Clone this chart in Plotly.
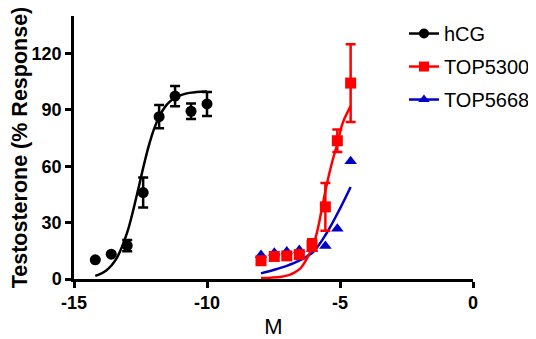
import plotly.graph_objects as go

# ---- data ----
hcg_x = [-14.2, -13.6, -13.0, -12.4, -11.8, -11.2, -10.6, -10.0]
hcg_y = [10.2, 13.2, 17.8, 46.0, 86.4, 97.4, 89.3, 93.2]
hcg_err = [0, 0, 3.0, 8.0, 6.2, 5.4, 4.1, 6.4]

top5300_x = [-7.97, -7.47, -7.0, -6.53, -6.05, -5.55, -5.1, -4.6]
top5300_y = [9.7, 12.0, 12.3, 13.0, 18.1, 38.4, 73.6, 104.3]
top5300_err = [0, 0, 0, 0, 3.0, 12.7, 6.0, 20.7]

top5668_x = [-7.97, -7.47, -7.0, -6.53, -6.05, -5.55, -5.1, -4.6]
top5668_y = [12.8, 14.0, 14.6, 15.5, 16.0, 17.6, 26.7, 62.7]

# fitted curves
hcg_fit_x = [-14.2, -13.8, -13.4, -13.0, -12.8, -12.6, -12.4, -12.2, -12.0, -11.8,
             -11.6, -11.4, -11.2, -10.8, -10.4, -10.0]
hcg_fit_y = [1.7, 4.4, 11.0, 24.8, 35.1, 46.9, 59.1, 70.3, 79.5, 86.4,
             91.2, 94.4, 96.5, 98.7, 99.5, 99.8]

top5300_fit_x = [-7.97, -7.6, -7.2, -6.9, -6.7, -6.5, -6.3, -6.1, -5.9, -5.7,
                 -5.5, -5.3, -5.1, -4.9, -4.6]
top5300_fit_y = [0.5, 0.7, 1.2, 2.2, 3.5, 5.5, 9.5, 15.0, 23.0, 36.0,
                 50.0, 62.0, 72.0, 83.0, 92.0]

top5668_fit_x = [-7.97, -7.5, -7.0, -6.5, -6.0, -5.5, -5.0, -4.6]
top5668_fit_y = [3.0, 4.8, 7.0, 10.0, 14.5, 24.5, 37.5, 49.0]

x_ticks = [-15, -10, -5, 0]
y_ticks = [0, 30, 60, 90, 120]

BLACK = "#000000"
RED = "#ff0000"
BLUE = "#0000c8"
FONT = "Liberation Sans, Arial, sans-serif"

fig = go.Figure()

fig.add_trace(go.Scatter(x=top5668_fit_x, y=top5668_fit_y, mode="lines",
                         line=dict(color=BLUE, width=2.5, shape="spline"),
                         showlegend=False, hoverinfo="skip"))
fig.add_trace(go.Scatter(x=top5668_x, y=top5668_y, mode="markers",
                         marker=dict(symbol="triangle-up", size=11, color=BLUE),
                         showlegend=False, cliponaxis=False))

fig.add_trace(go.Scatter(x=hcg_fit_x, y=hcg_fit_y, mode="lines",
                         line=dict(color=BLACK, width=2.5, shape="spline"),
                         showlegend=False, hoverinfo="skip"))
fig.add_trace(go.Scatter(x=hcg_x, y=hcg_y, mode="markers",
                         marker=dict(symbol="circle", size=11, color=BLACK),
                         error_y=dict(type="data", array=hcg_err, color=BLACK,
                                      thickness=2.5, width=5),
                         showlegend=False, cliponaxis=False))

fig.add_trace(go.Scatter(x=top5300_fit_x, y=top5300_fit_y, mode="lines",
                         line=dict(color=RED, width=2.5, shape="spline"),
                         showlegend=False, hoverinfo="skip"))
fig.add_trace(go.Scatter(x=top5300_x, y=top5300_y, mode="markers",
                         marker=dict(symbol="square", size=11, color=RED),
                         error_y=dict(type="data", array=top5300_err, color=RED,
                                      thickness=2.5, width=5),
                         showlegend=False, cliponaxis=False))

for name, color, sym, rank in [("hCG", BLACK, "circle", 1),
                               ("TOP5300", RED, "square", 2),
                               ("TOP5668", BLUE, "triangle-up", 3)]:
    fig.add_trace(go.Scatter(x=[None], y=[None], mode="lines+markers", name=name,
                             line=dict(color=color, width=2.5),
                             marker=dict(symbol=sym, size=10, color=color),
                             legendrank=rank, legendgroup=name))

# the page has an 8px body margin, so the figure is shifted by 8px
fig.update_layout(
    width=536, height=331,
    margin=dict(l=66, r=71, t=6, b=60),
    paper_bgcolor="white", plot_bgcolor="white",
    font=dict(family=FONT, color="black"),
    legend=dict(x=0.827, y=1.0075, xanchor="left", yanchor="top",
                font=dict(size=20, color="black"),
                bgcolor="rgba(0,0,0,0)", tracegroupgap=4,
                itemwidth=30),
    showlegend=True,
)
fig.update_xaxes(range=[-15, 0], tickvals=x_ticks, ticktext=[str(v) for v in x_ticks],
                 automargin=False,
                 showline=True, linecolor="black", linewidth=2.5,
                 ticks="outside", ticklen=6, tickwidth=2.5, tickcolor="black",
                 showgrid=False, zeroline=False,
                 tickfont=dict(size=18, family=FONT, weight="bold"),
                 title=dict(text="M", font=dict(size=22), standoff=10))
fig.update_yaxes(range=[0, 140], tickvals=y_ticks, ticktext=[str(v) for v in y_ticks],
                 automargin=False,
                 showline=True, linecolor="black", linewidth=2.5,
                 ticks="outside", ticklen=6, tickwidth=2.5, tickcolor="black",
                 showgrid=False, zeroline=False,
                 tickfont=dict(size=18, family=FONT, weight="bold"),
                 title=dict(text="<b>Testosterone (% Response)</b>",
                            font=dict(size=21.5), standoff=15))

fig.write_html("out.html")
